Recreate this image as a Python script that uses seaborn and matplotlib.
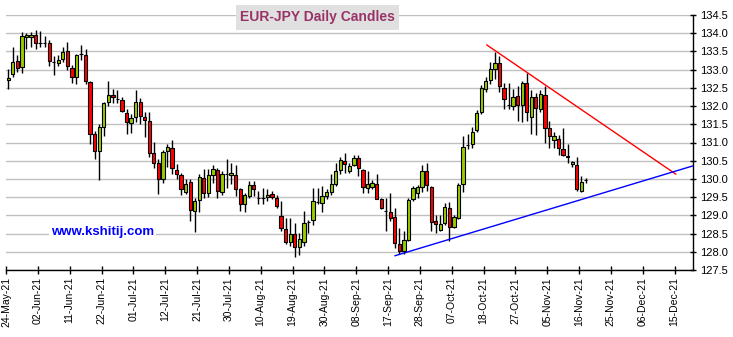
import matplotlib
matplotlib.use("Agg")
import matplotlib.pyplot as plt
from matplotlib.patches import Rectangle
import numpy as np
import pandas as pd
import seaborn as sns

# EUR-JPY daily OHLC, one entry per trading day starting 24-May-21
opens = [132.72, 132.87, 133.23, 133.07, 133.89, 133.89, 133.95, 133.73, 133.73, 133.72,
         133.22, 133.17, 133.30, 133.51, 133.05, 132.80, 133.42, 133.39, 132.65, 131.23,
         130.77, 131.42, 132.11, 132.31, 132.20, 132.18, 131.81, 131.53, 131.69, 132.12,
         131.69, 131.60, 130.71, 130.43, 129.99, 130.77, 130.84, 130.24, 130.11, 129.65,
         129.91, 129.13, 129.41, 130.02, 129.62, 130.11, 130.24, 129.65, 130.13, 130.11,
         130.11, 129.71, 129.32, 129.53, 129.83, 129.48, 129.48, 129.51, 129.60, 129.48,
         128.97, 128.63, 128.28, 128.50, 128.13, 128.28, 128.82, 128.86, 129.37, 129.33,
         129.53, 129.65, 129.87, 130.24, 130.49, 130.22, 130.38, 130.57, 130.24, 129.74,
         129.78, 129.87, 129.44, 129.11, 129.09, 128.95, 128.22, 128.01, 128.33, 129.46,
         129.62, 129.79, 130.22, 129.78, 128.84, 128.61, 128.79, 129.19, 128.68, 128.93,
         129.85, 130.94, 130.97, 131.34, 131.83, 132.47, 132.72, 133.03, 133.18, 132.50,
         132.03, 131.99, 132.29, 132.04, 132.64, 131.71, 132.24, 131.92, 132.31, 131.40,
         131.07, 131.09, 130.81, 130.63, 130.42, 130.38, 129.67, 129.96]
highs = [133.03, 133.63, 133.40, 134.04, 134.01, 134.04, 134.10, 134.06, 133.92, 133.81,
         133.37, 133.40, 133.63, 133.76, 133.12, 133.44, 133.67, 133.58, 132.70, 131.32,
         131.51, 132.11, 132.68, 132.47, 132.45, 132.24, 131.92, 131.78, 132.43, 132.22,
         131.83, 131.85, 131.02, 130.54, 130.80, 130.97, 131.07, 130.40, 130.17, 129.99,
         129.99, 129.48, 130.13, 130.26, 130.26, 130.38, 130.31, 130.22, 130.54, 130.45,
         130.38, 129.76, 129.62, 129.94, 129.94, 129.67, 129.76, 129.71, 129.67, 129.55,
         129.39, 128.93, 128.93, 128.79, 128.51, 129.11, 128.88, 129.76, 129.74, 129.80,
         129.71, 130.13, 130.45, 130.59, 130.72, 130.45, 130.66, 130.66, 130.26, 130.22,
         129.98, 130.13, 129.48, 129.48, 129.62, 129.21, 128.65, 128.56, 129.48, 129.80,
         129.83, 130.38, 130.43, 129.80, 129.02, 129.02, 129.34, 129.36, 129.02, 129.90,
         131.18, 131.23, 131.43, 131.88, 132.57, 132.80, 133.21, 133.49, 133.37, 132.63,
         132.63, 132.47, 132.54, 132.70, 132.91, 132.43, 132.35, 132.43, 132.54, 131.58,
         131.30, 131.21, 131.41, 130.97, 130.48, 130.59, 130.08, 130.03]
lows = [132.47, 132.80, 132.93, 132.91, 133.58, 133.62, 133.56, 133.62, 133.62, 133.10,
        132.84, 133.10, 133.21, 132.98, 132.64, 132.61, 133.26, 132.61, 130.97, 130.54,
        129.97, 131.17, 131.99, 132.08, 132.08, 131.83, 131.23, 131.26, 131.55, 131.51,
        131.16, 130.59, 130.31, 129.60, 129.90, 130.34, 130.14, 129.99, 129.57, 129.59,
        128.84, 128.54, 129.09, 129.48, 129.50, 129.90, 129.48, 129.57, 129.76, 129.85,
        129.53, 129.11, 129.09, 129.48, 129.53, 129.30, 129.32, 129.39, 129.44, 129.19,
        128.56, 128.21, 128.15, 127.87, 127.90, 128.15, 128.51, 128.73, 129.30, 129.09,
        129.44, 129.57, 129.80, 130.13, 130.15, 130.15, 130.36, 130.08, 129.62, 129.62,
        129.72, 129.44, 129.17, 128.56, 128.84, 128.10, 127.94, 127.93, 128.30, 129.39,
        129.48, 129.65, 129.67, 128.56, 128.51, 128.56, 128.73, 128.30, 128.65, 128.91,
        129.65, 130.82, 130.86, 131.28, 131.77, 132.38, 132.61, 132.75, 132.38, 131.92,
        131.92, 131.88, 131.60, 131.55, 131.60, 131.23, 131.21, 131.83, 131.00, 130.84,
        130.86, 130.66, 130.63, 130.45, 130.34, 129.67, 129.65, 129.90]
closes = [132.78, 133.20, 133.05, 133.92, 133.95, 133.95, 133.72, 133.73, 133.72, 133.24,
          133.20, 133.26, 133.49, 133.10, 132.80, 133.39, 133.42, 132.70, 131.23, 130.77,
          131.43, 132.09, 132.31, 132.24, 132.20, 131.86, 131.55, 131.68, 132.12, 131.74,
          131.62, 130.72, 130.45, 129.99, 130.75, 130.88, 130.29, 130.13, 129.71, 129.87,
          129.15, 129.39, 130.05, 129.62, 130.11, 130.26, 129.68, 130.13, 130.13, 130.16,
          129.71, 129.32, 129.55, 129.83, 129.71, 129.48, 129.48, 129.57, 129.51, 129.25,
          128.65, 128.28, 128.50, 128.13, 128.36, 128.79, 128.82, 129.39, 129.37, 129.53,
          129.64, 129.87, 130.22, 130.51, 130.40, 130.36, 130.57, 130.29, 129.78, 129.85,
          129.90, 129.46, 129.21, 129.11, 128.93, 128.24, 128.01, 128.33, 129.41, 129.74,
          129.78, 130.22, 129.82, 128.82, 128.76, 128.77, 129.22, 128.68, 128.95, 129.83,
          130.88, 130.94, 131.30, 131.81, 132.50, 132.70, 133.01, 133.18, 132.54, 132.20,
          132.03, 132.24, 132.04, 132.64, 131.85, 132.24, 131.95, 132.33, 131.41, 131.19,
          131.19, 130.84, 130.66, 130.59, 130.47, 129.71, 129.92, 129.96]

# Date labels, one every seven trading days
date_labels = ["24-May-21", "02-Jun-21", "11-Jun-21", "22-Jun-21", "01-Jul-21", "12-Jul-21",
               "21-Jul-21", "30-Jul-21", "10-Aug-21", "19-Aug-21", "30-Aug-21", "08-Sep-21",
               "17-Sep-21", "28-Sep-21", "07-Oct-21", "18-Oct-21", "27-Oct-21", "05-Nov-21",
               "16-Nov-21", "25-Nov-21", "06-Dec-21", "15-Dec-21"]
price_ticks = [127.5, 128.0, 128.5, 129.0, 129.5, 130.0, 130.5, 131.0, 131.5,
               132.0, 132.5, 133.0, 133.5, 134.0, 134.5]

# Trend lines (trading-day index, price)
resistance_x = [105.2, 146.8]
resistance_y = [133.68, 130.13]
support_x = [85.0, 150.6]
support_y = [127.89, 130.36]

df = pd.DataFrame({"open": opens, "high": highs, "low": lows, "close": closes})
df["day"] = np.arange(len(df))
df["up"] = df["close"] >= df["open"]

sns.set_theme(style="white")
plt.rcParams["font.family"] = ["Liberation Sans", "DejaVu Sans"]

W, H = 733, 337
fig = plt.figure(figsize=(W / 100, H / 100), dpi=100)
ax = fig.add_axes([6 / W, 1 - 270 / H, (692.7 - 6) / W, (270 - 15) / H])

# wicks
ax.vlines(df["day"], df["low"], df["high"], color="black", linewidth=1.0, zorder=3)
# bodies
body_bottom = np.minimum(df["open"], df["close"])
body_height = np.abs(df["close"] - df["open"])
colors = np.where(df["up"], "#99cc00", "#ff0000")
ax.bar(df["day"], body_height, bottom=body_bottom, width=0.72, color=colors,
       edgecolor="black", linewidth=0.8, zorder=4)

sns.lineplot(x=resistance_x, y=resistance_y, color="#ff0000", linewidth=1.0, ax=ax, zorder=5)
sns.lineplot(x=support_x, y=support_y, color="#0000ff", linewidth=1.0, ax=ax, zorder=5)

ax.set_xlim(-0.5, 150.5)
ax.set_ylim(127.5, 134.5)

ax.set_xticks([7 * k - 0.5 for k in range(len(date_labels))])
ax.set_xticklabels(date_labels, rotation=90, fontsize=7.5)
ax.yaxis.tick_right()
ax.set_yticks(price_ticks)
ax.set_yticklabels([f"{v:.1f}" for v in price_ticks], fontsize=8)

ax.grid(False)
ax.yaxis.grid(True, color="#c0c0c0", linewidth=1.0, zorder=0)
ax.set_axisbelow(True)
for side in ("left", "top"):
    ax.spines[side].set_visible(False)
for side in ("right", "bottom"):
    ax.spines[side].set_visible(True)
    ax.spines[side].set_color("black")
    ax.spines[side].set_linewidth(1.0)
ax.tick_params(axis="x", direction="inout", length=6, width=1, color="black", pad=2,
               bottom=True, labelcolor="black")
ax.tick_params(axis="y", direction="inout", length=5, width=1, color="black", pad=3,
               right=True, left=False, labelcolor="black")
ax.set_xlabel("")
ax.set_ylabel("")

# title box
fig.add_artist(Rectangle((236 / W, 1 - 30 / H), 163 / W, 25 / H, transform=fig.transFigure,
                         facecolor="#e0e0e0", edgecolor="none", zorder=10))
fig.text(317.5 / W, 1 - 17.5 / H, "EUR-JPY Daily Candles", ha="center", va="center",
         fontsize=10, fontweight="bold", color="#993366", zorder=11)

# site label
fig.text(102.5 / W, 1 - 232 / H, "www.kshitij.com", ha="center", va="center",
         fontsize=9.5, fontweight="bold", color="#0000ff", zorder=11,
         bbox=dict(facecolor="white", edgecolor="none", pad=1.5))

fig.savefig("out.png", dpi=100)
